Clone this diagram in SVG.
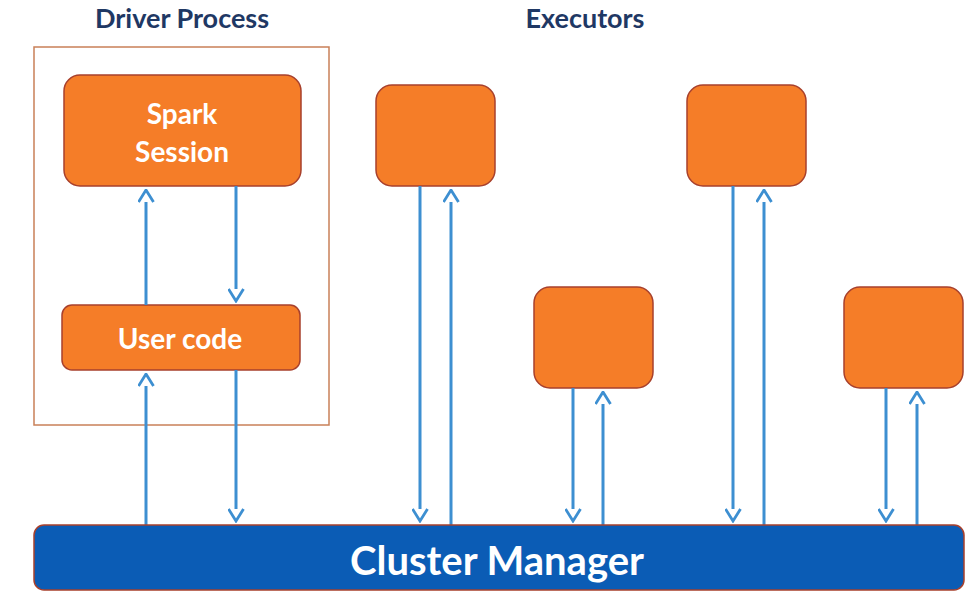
<svg xmlns="http://www.w3.org/2000/svg" width="980" height="597" viewBox="0 0 980 597">
<defs>
<marker id="ah" viewBox="0 0 15 17" refX="1.5" refY="8.5" markerWidth="15" markerHeight="17" markerUnits="userSpaceOnUse" orient="auto-start-reverse">
<path d="M1.5,1 L13.5,8.5 L1.5,16" fill="none" stroke="#3d8fd1" stroke-width="2.8"/>
</marker>
<style>
.title{font-family:Lato,"Open Sans",sans-serif;font-weight:bold;font-size:27px;fill:#1f3864;text-anchor:middle}
.node{fill:#f57d28;stroke:#a8402c;stroke-width:1.5}
.lbl{font-family:Lato,"Open Sans",sans-serif;font-weight:bold;font-size:28px;fill:#ffffff;text-anchor:middle}
.cm{fill:#0b5cb5;stroke:#a8402c;stroke-width:1.5}
.cmt{font-family:Lato,"Open Sans",sans-serif;font-weight:bold;font-size:40px;fill:#ffffff;text-anchor:middle}
.up{fill:none;stroke:#3d8fd1;stroke-width:3;marker-start:url(#ah)}
.dn{fill:none;stroke:#3d8fd1;stroke-width:3;marker-end:url(#ah)}
</style>
</defs>
<rect width="980" height="597" fill="#ffffff"/>
<text class="title" x="182" y="28">Driver Process</text>
<text class="title" x="585" y="28">Executors</text>
<g id="driver"><rect x="34" y="47" width="295" height="378" fill="none" stroke="#c98058" stroke-width="1.5"/></g>
<g id="spark-session"><rect class="node" x="64" y="75" width="237" height="111" rx="16"/><text class="lbl" x="182" y="124">Spark</text><text class="lbl" x="182" y="162">Session</text></g>
<g id="user-code"><rect class="node" x="62" y="305" width="238" height="65" rx="10"/><text class="lbl" x="180" y="349">User code</text></g>
<g id="executor1"><rect class="node" x="376" y="85" width="119" height="101" rx="16"/></g>
<g id="executor2"><rect class="node" x="534" y="287" width="119" height="101" rx="16"/></g>
<g id="executor3"><rect class="node" x="687" y="85" width="119" height="101" rx="16"/></g>
<g id="executor4"><rect class="node" x="844" y="287" width="119" height="101" rx="16"/></g>
<g id="connectors">
<line class="up" x1="146" y1="202" x2="146" y2="305"/>
<line class="dn" x1="236" y1="186" x2="236" y2="289"/>
<line class="up" x1="146" y1="386" x2="146" y2="525"/>
<line class="dn" x1="236" y1="370" x2="236" y2="509"/>
<line class="dn" x1="420" y1="186" x2="420" y2="509"/>
<line class="up" x1="451" y1="202" x2="451" y2="525"/>
<line class="dn" x1="573" y1="388" x2="573" y2="509"/>
<line class="up" x1="603" y1="404" x2="603" y2="525"/>
<line class="dn" x1="733" y1="186" x2="733" y2="509"/>
<line class="up" x1="764" y1="202" x2="764" y2="525"/>
<line class="dn" x1="886" y1="388" x2="886" y2="509"/>
<line class="up" x1="917" y1="404" x2="917" y2="525"/>
</g>
<g id="cluster-manager"><rect class="cm" x="34" y="525" width="930" height="65" rx="10"/><text class="cmt" x="497" y="575">Cluster Manager</text></g>
</svg>
